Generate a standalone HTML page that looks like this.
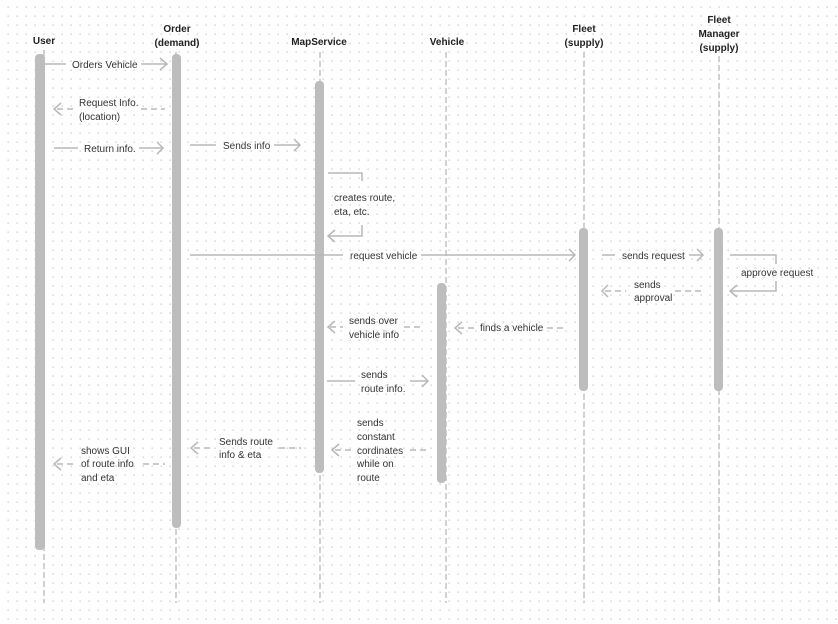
<!DOCTYPE html>
<html><head><meta charset="utf-8"><style>
html,body{margin:0;padding:0;background:#fff;}
svg{display:block;font-family:"Liberation Sans",sans-serif;}
.t{font-size:10px;fill:#333;}
.h{font-size:10px;fill:#222;font-weight:bold;text-anchor:middle;}
.ll{stroke:#c4c4c4;stroke-width:1.5;stroke-dasharray:6,3;fill:none;}
.bar{fill:#bdbdbd;}
.s{stroke:#b8b8b8;stroke-width:1.5;fill:none;}
.d{stroke:#b8b8b8;stroke-width:1.5;fill:none;stroke-dasharray:6,4;}
.a{stroke:#b8b8b8;stroke-width:1.5;fill:none;}
</style></head><body>
<svg width="838" height="624" viewBox="0 0 838 624">
<defs><pattern id="g" x="7" y="6" width="9" height="9" patternUnits="userSpaceOnUse"><rect x="0.5" y="0.5" width="1.3" height="1.3" fill="#c8c8c8"/></pattern></defs>
<rect width="838" height="624" fill="url(#g)"/>
<text class="h" x="44" y="44">User</text>
<text class="h" x="177" y="32">Order</text><text class="h" x="177" y="46">(demand)</text>
<text class="h" x="319" y="45">MapService</text>
<text class="h" x="447" y="45">Vehicle</text>
<text class="h" x="584" y="32">Fleet</text><text class="h" x="584" y="46">(supply)</text>
<text class="h" x="719" y="23">Fleet</text><text class="h" x="719" y="37">Manager</text><text class="h" x="719" y="51">(supply)</text>
<line class="ll" x1="44" y1="50" x2="44" y2="603"/>
<line class="ll" x1="176" y1="52" x2="176" y2="603"/>
<line class="ll" x1="320" y1="52" x2="320" y2="603"/>
<line class="ll" x1="446" y1="52" x2="446" y2="603"/>
<line class="ll" x1="584" y1="52" x2="584" y2="603"/>
<line class="ll" x1="719" y1="56" x2="719" y2="603"/>
<rect class="bar" x="35" y="54" width="10" height="496" rx="4"/>
<rect class="bar" x="172" y="54" width="9" height="474" rx="4"/>
<rect class="bar" x="315" y="81" width="9" height="392" rx="4"/>
<rect class="bar" x="437" y="283" width="9" height="200" rx="4"/>
<rect class="bar" x="579" y="228" width="9" height="163" rx="4"/>
<rect class="bar" x="714" y="228" width="9" height="163" rx="4"/>
<line class="s" x1="45" y1="64" x2="66" y2="64"/><line class="s" x1="141" y1="64" x2="167" y2="64"/>
<polyline class="a" points="160,58 167,64 160,70"/>
<text class="t" x="72" y="68">Orders Vehicle</text>
<line class="d" x1="57" y1="109" x2="73" y2="109"/><line class="d" x1="141" y1="109" x2="165" y2="109"/>
<polyline class="a" points="61,103 54,109 61,115"/>
<text class="t" x="79" y="106">Request Info.</text><text class="t" x="79" y="120">(location)</text>
<line class="s" x1="54" y1="148" x2="78" y2="148"/><line class="s" x1="139" y1="148" x2="163" y2="148"/>
<polyline class="a" points="157,142 163,148 157,154"/>
<text class="t" x="84" y="152">Return info.</text>
<line class="s" x1="190" y1="145" x2="216" y2="145"/><line class="s" x1="274" y1="145" x2="300" y2="145"/>
<polyline class="a" points="294,139 300,145 294,151"/>
<text class="t" x="223" y="149">Sends info</text>
<polyline class="s" points="328,173 362,173 362,181"/>
<polyline class="s" points="362,225 362,236 329,236"/>
<polyline class="a" points="335,230 328,236 335,242"/>
<text class="t" x="334" y="201">creates route,</text><text class="t" x="334" y="215">eta, etc.</text>
<line class="s" x1="190" y1="255" x2="343" y2="255"/><line class="s" x1="421" y1="255" x2="575" y2="255"/>
<polyline class="a" points="569,249 575,255 569,261"/>
<text class="t" x="350" y="259">request vehicle</text>
<line class="s" x1="602" y1="255" x2="615" y2="255"/><line class="s" x1="689" y1="255" x2="703" y2="255"/>
<polyline class="a" points="697,249 703,255 697,261"/>
<text class="t" x="622" y="259">sends request</text>
<polyline class="s" points="730,255 776,255 776,264"/>
<polyline class="s" points="776,281 776,291 731,291"/>
<polyline class="a" points="737,285 730,291 737,297"/>
<text class="t" x="741" y="276">approve request</text>
<line class="d" x1="605" y1="291" x2="626" y2="291"/><line class="d" x1="675" y1="291" x2="703" y2="291"/>
<polyline class="a" points="608,285 602,291 608,297"/>
<text class="t" x="634" y="288">sends</text><text class="t" x="634" y="301">approval</text>
<line class="d" x1="458" y1="328" x2="474" y2="328"/><line class="d" x1="547" y1="328" x2="567" y2="328"/>
<polyline class="a" points="462,322 455,328 462,334"/>
<text class="t" x="480" y="331">finds a vehicle</text>
<line class="d" x1="330" y1="327" x2="343" y2="327"/><line class="d" x1="404" y1="327" x2="420" y2="327"/>
<polyline class="a" points="335,321 328,327 335,333"/>
<text class="t" x="349" y="324">sends over</text><text class="t" x="349" y="338">vehicle info</text>
<line class="s" x1="327" y1="381" x2="355" y2="381"/><line class="s" x1="410" y1="381" x2="428" y2="381"/>
<polyline class="a" points="422,375 428,381 422,387"/>
<text class="t" x="361" y="378">sends</text><text class="t" x="361" y="392">route info.</text>
<line class="d" x1="335" y1="450" x2="351" y2="450"/><line class="d" x1="410" y1="450" x2="430" y2="450"/>
<polyline class="a" points="339,444 332,450 339,456"/>
<text class="t" x="357" y="426">sends</text><text class="t" x="357" y="440">constant</text><text class="t" x="357" y="454">cordinates</text><text class="t" x="357" y="467">while on</text><text class="t" x="357" y="481">route</text>
<line class="d" x1="194" y1="448" x2="213" y2="448"/><line class="d" x1="279" y1="448" x2="301" y2="448"/>
<polyline class="a" points="198,442 191,448 198,454"/>
<text class="t" x="219" y="445">Sends route</text><text class="t" x="219" y="458">info &amp; eta</text>
<line class="d" x1="57" y1="464" x2="76" y2="464"/><line class="d" x1="143" y1="464" x2="165" y2="464"/>
<polyline class="a" points="61,458 54,464 61,470"/>
<text class="t" x="81" y="454">shows GUI</text><text class="t" x="81" y="467">of route info</text><text class="t" x="81" y="481">and eta</text>
</svg>
</body></html>
